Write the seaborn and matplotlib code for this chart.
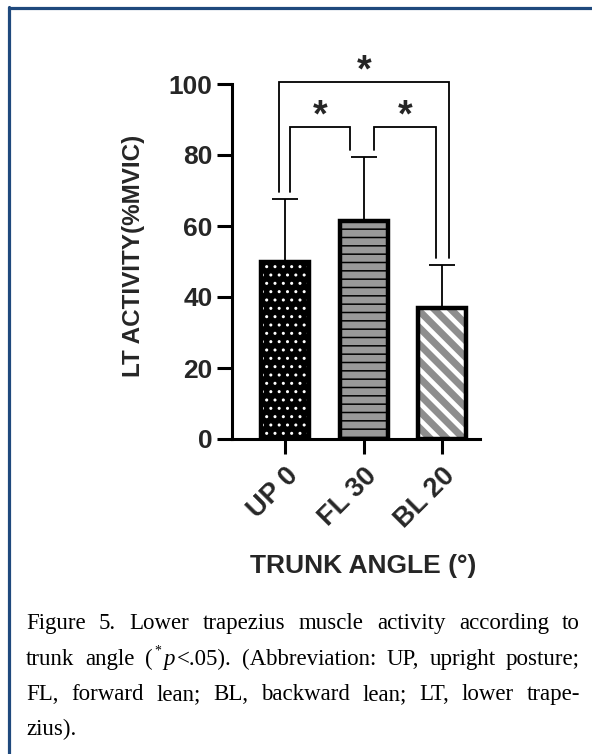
import numpy as np
import pandas as pd
import matplotlib
matplotlib.use("Agg")
import matplotlib.pyplot as plt
import seaborn as sns
from matplotlib.patches import Rectangle
from matplotlib.lines import Line2D

# ---- data ----
conditions = ["UP 0", "FL 30", "BL 20"]
mean_activity = [49.8, 61.3, 36.8]
sd_activity = [17.8, 18.1, 12.2]
# significant pairs (p<.05): left bar, right bar, bracket height
sig_pairs = [(0, 1, 87.9), (1, 2, 87.9), (0, 2, 100.6)]
yticks = [0, 20, 40, 60, 80, 100]

caption_lines = [
    "Figure 5. Lower trapezius muscle activity according to",
    "trunk angle (*p<.05). (Abbreviation: UP, upright posture;",
    "FL, forward lean; BL, backward lean; LT, lower trape-",
    "zius).",
]

# ---- styles ----
bar_fill = ["black", "#999999", "#8e8e8e"]
bar_hatch = ["..", "--", "\\\\"]
hatch_color = ["white", "black", "white"]
hatch_lw = [1.0, 1.1, 3.4]
# leg offsets of each bracket relative to the bar centres
leg_offsets = [(0.064, -0.17), (0.13, -0.08), (-0.076, 0.08)]

W, H = 592, 754
sns.set_style("ticks")
plt.rcParams['font.family'] = ['Liberation Sans', 'DejaVu Sans']
plt.rcParams['font.weight'] = 'bold'
plt.rcParams['axes.labelweight'] = 'bold'

fig = plt.figure(figsize=(W / 100, H / 100), dpi=100)
fig.patch.set_facecolor("white")
ax = fig.add_axes([232 / W, (H - 439) / H, 248 / W, 355 / H])

df = pd.DataFrame({"cond": conditions, "mean": mean_activity})
sns.barplot(data=df, x="cond", y="mean", hue="cond", palette=bar_fill,
            width=0.61, linewidth=0, errorbar=None, legend=False, ax=ax, zorder=2)

# one-sided error bars (upper SD only)
ax.errorbar(range(len(conditions)), mean_activity,
            yerr=[np.zeros(len(conditions)), sd_activity],
            fmt='none', ecolor='black', elinewidth=1.3, capsize=9.5, capthick=1.3, zorder=1)

for i, bar in enumerate(list(ax.patches)):
    x, y = bar.get_x(), bar.get_y()
    w, h = bar.get_width(), bar.get_height()
    with plt.rc_context({'hatch.linewidth': hatch_lw[i]}):
        hp = Rectangle((x, y), w, h, fill=False, edgecolor=hatch_color[i],
                       hatch=bar_hatch[i], linewidth=0, zorder=3)
    if hasattr(hp, "set_hatch_linewidth"):
        hp.set_hatch_linewidth(hatch_lw[i])
    ax.add_patch(hp)
    ax.add_patch(Rectangle((x, y), w, h, fill=False, edgecolor='black',
                           linewidth=3.2, zorder=4))

# significance brackets
for (a, b, top), (oa, ob) in zip(sig_pairs, leg_offsets):
    xl, xr = a + oa, b + ob
    yl = mean_activity[a] + sd_activity[a] + 2
    yr = mean_activity[b] + sd_activity[b] + 2
    ax.plot([xl, xl, xr, xr], [yl, top, top, yr], color='black', lw=1.3,
            clip_on=False, zorder=5, solid_joinstyle='miter')
    ax.annotate("*", ((xl + xr) / 2, top + 6), xytext=(0, -15), textcoords='offset points',
                ha='center', va='baseline', fontsize=27, fontweight='bold',
                annotation_clip=False)

ax.set_xlim(-0.671, 2.48)
ax.set_ylim(0, 100)
ax.set_yticks(yticks)
ax.set_xticks(range(len(conditions)))
ax.set_xticklabels(conditions, rotation=45, ha='right', rotation_mode='anchor')
ax.tick_params(axis='both', length=11, width=2.2, color='black')
ax.tick_params(axis='x', pad=6, labelsize=19.5)
ax.tick_params(axis='y', pad=3, labelsize=19)
sns.despine(ax=ax)
for s in ("left", "bottom"):
    ax.spines[s].set_linewidth(2.2)
    ax.spines[s].set_color("black")

ax.set_ylabel("LT ACTIVITY(%MVIC)", fontsize=17.5)
ax.yaxis.set_label_coords(-0.35, 0.517)
ax.set_xlabel("TRUNK ANGLE (°)", fontsize=19)
ax.xaxis.set_label_coords(0.528, -0.325)

# frame lines (top and left)
border = "#1f497d"
fig.add_artist(Line2D([8.5 / W, 1], [1 - 7.5 / H, 1 - 7.5 / H], color=border, lw=2.3,
                      transform=fig.transFigure))
fig.add_artist(Line2D([8.5 / W, 8.5 / W], [0, 1 - 6.5 / H], color=border, lw=2.3,
                      transform=fig.transFigure))

# ---- justified caption ----
renderer = fig.canvas.get_renderer()
cap_font = dict(family=['Liberation Serif', 'DejaVu Serif'], fontweight='normal',
                color='black')
cap_size = 16.5


def split_word(word):
    # returns segments (text, style)
    if word.startswith("(*p"):
        return [("(", "n"), ("*", "sup"), ("p", "i"), (word[3:], "n")]
    return [(word, "n")]


def seg_kwargs(style):
    kw = dict(cap_font)
    kw['fontsize'] = cap_size * 0.6 if style == "sup" else cap_size
    kw['fontstyle'] = 'italic' if style == "i" else 'normal'
    return kw


def seg_width(text, style):
    t = fig.text(0, 0, text, **seg_kwargs(style))
    wpx = t.get_window_extent(renderer).width
    t.remove()
    return wpx


x_left, x_right = 26, 580
baselines = [629, 665, 700, 735]
for li, line in enumerate(caption_lines):
    words = [split_word(wd) for wd in line.split(" ")]
    widths = []
    for segs in words:
        widths.append(sum(seg_width(t, s) for t, s in segs) + 2.0 * (len(segs) - 1))
    justify = li < len(caption_lines) - 1 and len(words) > 1
    if justify:
        gap = (x_right - x_left - sum(widths)) / (len(words) - 1)
    else:
        gap = seg_width("a a", "n") - 2 * seg_width("a", "n")
    xpos = x_left
    for segs, wd in zip(words, widths):
        xs = xpos
        for t, s in segs:
            dy = cap_size * 0.45 * 100 / 72 if s == "sup" else 0
            fig.text(xs / W, 1 - (baselines[li] - dy) / H, t, ha='left', va='baseline',
                     **seg_kwargs(s))
            xs += seg_width(t, s) + 2.0
        xpos += wd + gap

fig.savefig("out.png", dpi=100, facecolor="white")
